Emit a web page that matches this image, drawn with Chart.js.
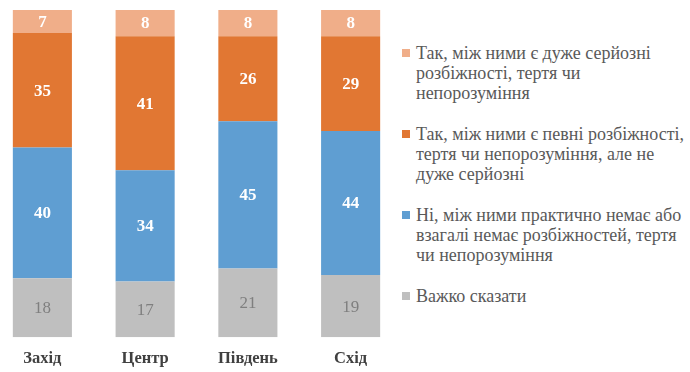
<!DOCTYPE html>
<html>
<head>
<meta charset="utf-8">
<script src="https://cdn.jsdelivr.net/npm/chart.js@4.4.1/dist/chart.umd.min.js"></script>
<style>
  html, body { margin: 0; padding: 0; background: #ffffff; }
  #wrap { position: relative; width: 690px; height: 372px; overflow: hidden; }
  #chartBox { position: absolute; left: -9px; top: 0; width: 411px; height: 385px; }
  #legend { position: absolute; left: 402px; top: 43px; width: 290px;
            font-family: 'Liberation Serif', serif; font-size: 18px;
            color: #595959; line-height: 20px; }
  .item { position: relative; padding-left: 14px; margin-bottom: 21px; white-space: nowrap; }
  .sw { position: absolute; left: 0; top: 6px; width: 8px; height: 8px; }
</style>
</head>
<body>
<div id="wrap">
  <div id="chartBox"><canvas id="c"></canvas></div>
  <div id="legend"></div>
</div>
<script>
const categories = ["Захід", "Центр", "Південь", "Схід"];
const seriesNames = [
  "Важко сказати",
  "Ні, між ними практично немає або взагалі немає розбіжностей, тертя чи непорозуміння",
  "Так, між ними є певні розбіжності, тертя чи непорозуміння, але не дуже серйозні",
  "Так, між ними є дуже серйозні розбіжності, тертя чи непорозуміння"
];
const hardToSay = [18, 17, 21, 19];
const noDisagreements = [40, 34, 45, 44];
const someDisagreements = [35, 41, 26, 29];
const seriousDisagreements = [7, 8, 8, 8];

const colors = ["#BFBFBF", "#5F9ED2", "#E17733", "#F0AE89"];
const labelColors = ["#7F7F7F", "#FFFFFF", "#FFFFFF", "#FFFFFF"];
const labelWeights = ["normal", "bold", "bold", "bold"];

const legendLines = [
  ["Так, між ними є дуже серйозні", "розбіжності, тертя чи", "непорозуміння"],
  ["Так, між ними є певні розбіжності,", "тертя чи непорозуміння, але не", "дуже серйозні"],
  ["Ні, між ними практично немає або", "взагалі немає розбіжностей, тертя", "чи непорозуміння"],
  ["Важко сказати"]
];
const legendColors = ["#F0AE89", "#E17733", "#5F9ED2", "#BFBFBF"];

const lg = document.getElementById("legend");
legendLines.forEach((lines, i) => {
  const d = document.createElement("div");
  d.className = "item";
  const s = document.createElement("span");
  s.className = "sw";
  s.style.background = legendColors[i];
  d.appendChild(s);
  lines.forEach((ln, j) => {
    if (j) d.appendChild(document.createElement("br"));
    d.appendChild(document.createTextNode(ln));
  });
  lg.appendChild(d);
});

const FONT_FAMILY = "'Liberation Serif', serif";

const valueLabels = {
  id: "valueLabels",
  afterDatasetsDraw(chart) {
    const ctx = chart.ctx;
    chart.data.datasets.forEach((ds, di) => {
      const meta = chart.getDatasetMeta(di);
      meta.data.forEach((bar, i) => {
        const v = ds.data[i];
        const yc = (bar.y + bar.base) / 2;
        ctx.save();
        ctx.fillStyle = labelColors[di];
        ctx.font = labelWeights[di] + " 17px " + FONT_FAMILY;
        ctx.textAlign = "center";
        ctx.textBaseline = "middle";
        ctx.fillText(String(v), bar.x, yc + 1);
        ctx.restore();
      });
    });
  }
};

const allSeries = [hardToSay, noDisagreements, someDisagreements, seriousDisagreements];
new Chart(document.getElementById("c"), {
  type: "bar",
  data: {
    labels: categories,
    datasets: allSeries.map((d, i) => ({
      label: seriesNames[i],
      data: d,
      backgroundColor: colors[i],
      borderWidth: 0,
      barPercentage: 1,
      categoryPercentage: 0.575
    }))
  },
  options: {
    responsive: true,
    maintainAspectRatio: false,
    animation: false,
    layout: { padding: { top: 10, bottom: 4, left: 0, right: 0 } },
    plugins: { legend: { display: false }, tooltip: { enabled: false } },
    scales: {
      x: {
        stacked: true,
        grid: { display: false, drawTicks: false },
        border: { display: false },
        ticks: {
          color: "#404040",
          padding: 12,
          font: { family: FONT_FAMILY, size: 16.5, weight: "bold" }
        }
      },
      y: {
        stacked: true,
        display: false,
        min: 0,
        max: 100
      }
    }
  },
  plugins: [valueLabels]
});
</script>
</body>
</html>
